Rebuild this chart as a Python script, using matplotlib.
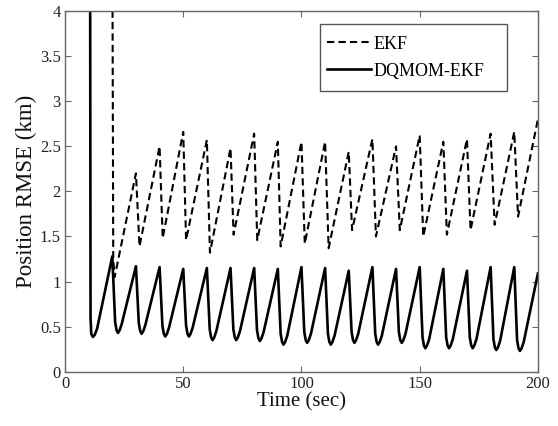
#!/usr/bin/env python3
"""
plot.py
Position RMSE over time for EKF and DQMOM-EKF.
"""

import matplotlib
matplotlib.use("Agg")
import matplotlib.pyplot as plt
from matplotlib.patches import Rectangle

# EKF (dashed) - corners of the sawtooth
ekf_t = [20.0, 20.4, 21.0, 30.0, 31.5, 40.0, 41.3, 50.0, 51.2, 60.0, 61.3,
         70.0, 71.3, 80.0, 81.3, 90.0, 91.2, 100.0, 101.4, 110.0, 111.5,
         120.0, 121.4, 130.0, 131.5, 140.0, 141.6, 150.0, 151.5, 160.0, 161.5,
         170.0, 171.5, 180.0, 181.7, 190.0, 191.6, 200.0]
ekf_rmse = [5.0, 1.25, 1.05, 2.20, 1.39, 2.50, 1.48, 2.66, 1.46, 2.57, 1.32,
            2.48, 1.52, 2.64, 1.46, 2.55, 1.39, 2.55, 1.42, 2.55, 1.37,
            2.44, 1.57, 2.58, 1.50, 2.50, 1.57, 2.62, 1.50, 2.55, 1.52,
            2.58, 1.57, 2.64, 1.63, 2.66, 1.72, 2.80]

# DQMOM-EKF (solid) - peak then the rounded trough of each tooth
dq_t = [10.6, 10.8, 11.1, 11.8, 12.6, 13.6,
        20.0, 21.2, 21.8, 22.4, 23.1, 24.0,
        30.0, 31.2, 31.8, 32.4, 33.1, 34.0,
        40.0, 41.2, 41.8, 42.4, 43.1, 44.0,
        50.0, 51.2, 51.8, 52.4, 53.1, 54.0,
        60.0, 61.2, 61.8, 62.4, 63.1, 64.0,
        70.0, 71.2, 71.8, 72.4, 73.1, 74.0,
        80.0, 81.2, 81.8, 82.4, 83.1, 84.0,
        90.0, 91.2, 91.8, 92.4, 93.1, 94.0,
        100.0, 101.2, 101.8, 102.4, 103.1, 104.0,
        110.0, 111.2, 111.8, 112.4, 113.1, 114.0,
        120.0, 121.2, 121.8, 122.4, 123.1, 124.0,
        130.0, 131.2, 131.8, 132.4, 133.1, 134.0,
        140.0, 141.2, 141.8, 142.4, 143.1, 144.0,
        150.0, 151.2, 151.8, 152.4, 153.1, 154.0,
        160.0, 161.2, 161.8, 162.4, 163.1, 164.0,
        170.0, 171.2, 171.8, 172.4, 173.1, 174.0,
        180.0, 181.2, 181.8, 182.4, 183.1, 184.0,
        190.0, 191.2, 191.8, 192.4, 193.1, 194.0,
        200.0]
dq_rmse = [5.0, 0.60, 0.42, 0.385, 0.41, 0.48,
           1.28, 0.55, 0.46, 0.43, 0.46, 0.53,
           1.17, 0.54, 0.45, 0.42, 0.45, 0.52,
           1.16, 0.51, 0.42, 0.39, 0.42, 0.49,
           1.14, 0.51, 0.42, 0.39, 0.42, 0.49,
           1.15, 0.47, 0.38, 0.35, 0.38, 0.45,
           1.15, 0.47, 0.38, 0.35, 0.38, 0.45,
           1.15, 0.46, 0.37, 0.34, 0.37, 0.44,
           1.14, 0.42, 0.33, 0.30, 0.33, 0.40,
           1.16, 0.44, 0.35, 0.32, 0.35, 0.42,
           1.15, 0.42, 0.33, 0.30, 0.33, 0.40,
           1.12, 0.44, 0.35, 0.32, 0.35, 0.42,
           1.16, 0.42, 0.33, 0.30, 0.33, 0.40,
           1.14, 0.44, 0.35, 0.32, 0.35, 0.42,
           1.16, 0.38, 0.29, 0.26, 0.29, 0.36,
           1.14, 0.38, 0.29, 0.26, 0.29, 0.36,
           1.12, 0.38, 0.29, 0.26, 0.29, 0.36,
           1.16, 0.36, 0.27, 0.24, 0.27, 0.34,
           1.16, 0.35, 0.26, 0.23, 0.26, 0.33,
           1.09]

x_ticks = [0, 50, 100, 150, 200]
y_ticks = [0, 0.5, 1, 1.5, 2, 2.5, 3, 3.5, 4]
y_tick_labels = ["0", "0.5", "1", "1.5", "2", "2.5", "3", "3.5", "4"]

plt.rcParams["font.family"] = ["Liberation Serif", "DejaVu Serif"]

fig = plt.figure(figsize=(5.58, 4.26), dpi=100)
ax = fig.add_axes([0.1165, 0.1275, 0.8475, 0.8465])

ax.plot(ekf_t, ekf_rmse, color="black", lw=1.5, linestyle=(0, (3.5, 2.0)),
        label="EKF")
ax.plot(dq_t, dq_rmse, color="black", lw=1.9, label="DQMOM-EKF",
        solid_joinstyle="round")

ax.set_xlim(0, 200)
ax.set_ylim(0, 4)
ax.set_xticks(x_ticks)
ax.set_yticks(y_ticks)
ax.set_yticklabels(y_tick_labels)
ax.tick_params(direction="in", length=4, width=0.8, colors="#666666",
               labelcolor="#222222", labelsize=12, top=True, right=True, pad=3)
for spine in ax.spines.values():
    spine.set_color("#666666")
    spine.set_linewidth(1.0)

ax.set_xlabel("Time (sec)", fontsize=15, color="#111111", labelpad=0)
ax.set_ylabel("Position RMSE (km)", fontsize=16.5, color="#111111", labelpad=2)

# legend box drawn separately (MATLAB-style wide frame)
ax.add_patch(Rectangle((0.540, 0.778), 0.3946, 0.186, transform=ax.transAxes,
                       facecolor="white", edgecolor="#555555", lw=1.0,
                       zorder=4))
leg = ax.legend(loc="upper left", bbox_to_anchor=(0.555, 0.932),
                borderaxespad=0, borderpad=0, fontsize=13, frameon=False,
                handlelength=2.4, handletextpad=0.15, labelspacing=0.55)
leg.set_zorder(5)

plt.savefig("out.png", dpi=100)
plt.close()
